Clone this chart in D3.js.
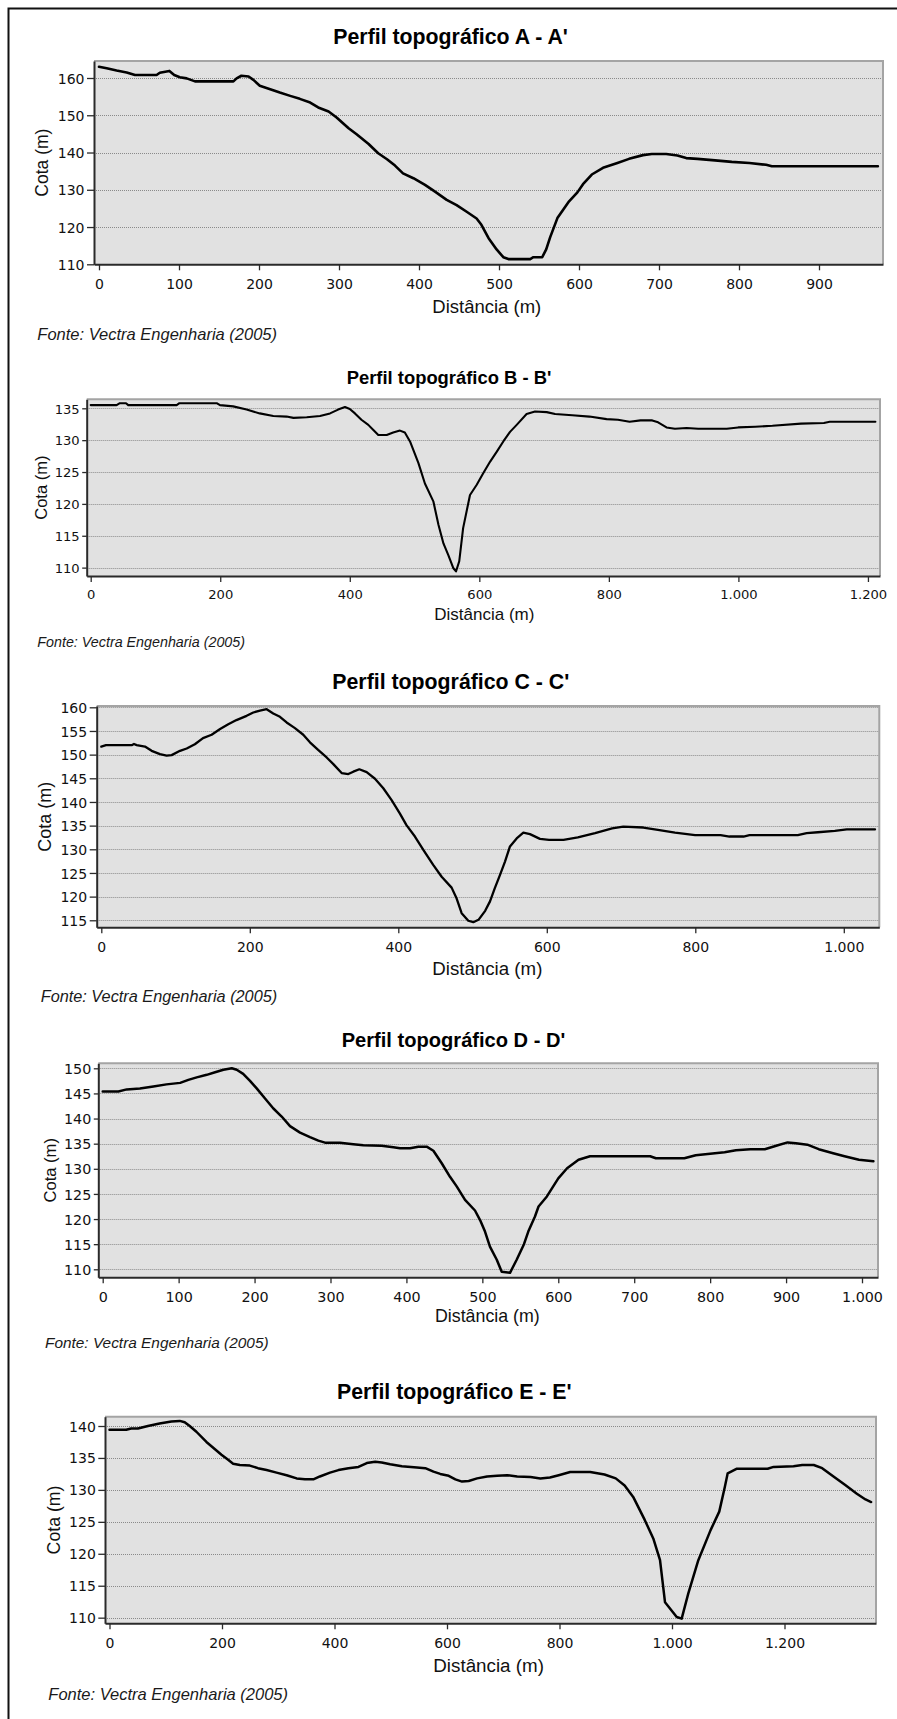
<!DOCTYPE html>
<html>
<head>
<meta charset="utf-8">
<script src="https://cdn.jsdelivr.net/npm/d3@7"></script>
<style>
  html, body { margin: 0; padding: 0; background: #fff; }
  svg { display: block; }
</style>
</head>
<body>
<svg id="chart" width="897" height="1719"></svg>
<script>
// ---- Topographic profiles: [distância (m), cota (m)] ----
const perfilA = [[0,163.0],[9.6,162.6],[22,162],[34.6,161.5],[45,160.8],[72,160.8],[76,161.4],[88,161.9],[94,160.8],[101,160.2],[109.6,159.9],[120,159.1],[168,159.1],[172,159.9],[178,160.6],[187,160.4],[193,159.5],[201,157.9],[214,157],[226,156.1],[239,155.2],[251,154.4],[264,153.4],[274,152.1],[287,151],[297,149.4],[312,146.5],[322,144.9],[337,142.3],[349,139.8],[360,138.2],[370,136.5],[380,134.4],[393,133.1],[407.5,131.3],[420,129.5],[434.6,127.3],[447,125.9],[459.6,124.1],[472,122.3],[478,120.6],[487,117],[497,114],[505.4,111.9],[511.7,111.4],[539,111.4],[543,111.9],[554,111.9],[559,114],[564,117.3],[573,122.4],[580,124.6],[587.6,126.9],[598,129.3],[605,131.5],[616,134.1],[630,135.9],[648,137.2],[662.6,138.3],[680,139.3],[691,139.6],[709,139.6],[723,139.2],[734,138.5],[748,138.3],[770,137.9],[791,137.5],[813,137.2],[834,136.7],[841,136.3],[973.6,136.3]];

const perfilB = [[0,135.5],[40,135.5],[45,135.8],[54.5,135.8],[58,135.5],[132.7,135.5],[137,135.8],[194.5,135.8],[199.6,135.5],[220,135.3],[240.7,134.8],[261,134.2],[282,133.8],[302.5,133.7],[313,133.5],[333.5,133.6],[354,133.8],[369.5,134.2],[382,134.8],[392.6,135.2],[400,134.9],[408,134.2],[418,133.2],[428.6,132.4],[436.4,131.6],[444,130.8],[457,130.8],[467,131.2],[477.5,131.5],[485,131.2],[493,129.8],[506,126.4],[516,123.2],[529,120.4],[537,116.7],[544.6,113.8],[552,112],[560,109.9],[564,109.4],[569,111],[575,116.2],[585.6,121.4],[596,123],[606,124.8],[616.5,126.6],[627,128.2],[637,129.8],[647.4,131.3],[657.7,132.4],[673,134.1],[686,134.5],[704,134.4],[717,134.1],[743.5,133.9],[770,133.7],[796.5,133.3],[814,133.2],[832,132.9],[849,133.1],[867,133.1],[876,132.8],[889,132],[902,131.8],[920,131.9],[938,131.8],[982,131.8],[999.6,132],[1026,132.1],[1052.5,132.25],[1096.7,132.6],[1132,132.7],[1141,132.9],[1211.5,132.9]];

const perfilC = [[0,151.7],[6.3,152],[40.9,152],[44,152.25],[47.6,152],[58.8,151.7],[67.8,150.8],[79,150.1],[88,149.8],[94.7,149.9],[106,150.8],[115,151.3],[126,152.2],[137,153.5],[148.6,154.2],[160,155.4],[171,156.4],[182,157.3],[195.7,158.2],[204.7,158.9],[213.7,159.3],[222.7,159.6],[231.6,158.7],[240.6,158],[249.6,156.8],[260.8,155.6],[272,154.2],[281,152.6],[292,151],[303.5,149.4],[312.5,148],[323.7,146.1],[332.7,145.9],[339.4,146.4],[347.5,146.9],[357.4,146.3],[368.6,144.9],[379.8,142.9],[391,140.4],[402,137.6],[411,135.1],[422.4,132.7],[433.7,129.9],[447,126.7],[458.4,124.2],[471.8,121.9],[478.6,119.6],[485.3,116.5],[494.3,114.9],[501,114.6],[508,115.1],[517,117],[523.5,119],[530,121.8],[537,124.6],[543.7,127.4],[550.4,130.6],[559.4,132.3],[568.4,133.5],[577.3,133.2],[590.8,132.2],[603,132],[622.5,132],[641.8,132.5],[665,133.4],[688,134.4],[703,134.8],[730,134.6],[749.6,134.1],[772.7,133.5],[799.7,133],[834,133],[846,132.7],[865,132.7],[873,133],[938,133],[950,133.4],[965,133.6],[988,133.9],[1004,134.2],[1042,134.2]];

const perfilD = [[0,145.4],[20.6,145.4],[31.6,145.8],[49,146],[66.7,146.4],[84,146.8],[102,147.1],[112.8,147.7],[123.8,148.2],[137,148.7],[148,149.2],[159,149.7],[170,150],[176.5,149.7],[185,148.9],[194,147.5],[202.8,146],[213.8,144],[224.8,142],[235.7,140.4],[246.7,138.5],[259.9,137.2],[273,136.3],[284,135.6],[292.8,135.2],[312.6,135.2],[330,134.9],[343.3,134.7],[367.4,134.6],[382.8,134.3],[391.6,134.1],[404.8,134.1],[415.7,134.4],[426.7,134.4],[435.5,133.6],[446.5,131.1],[457.4,128.4],[466.2,126.5],[477.2,123.8],[490.3,121.7],[497,119.8],[503.5,117.5],[510,114.5],[519,111.9],[525.5,109.5],[536.4,109.3],[545.2,111.9],[554.8,115],[560.5,117.5],[569.3,120.5],[574,122.5],[585,124.5],[600,128.1],[611.6,130.1],[626.7,131.8],[641.8,132.5],[664,132.5],[721,132.5],[728.5,132.1],[766,132.1],[781,132.7],[800,133],[819,133.3],[834,133.7],[853,133.9],[872,133.9],[887,134.6],[902,135.25],[913,135.1],[928,134.8],[943,133.9],[962,133.1],[977,132.5],[996,131.8],[1015,131.5]];

const perfilE = [[0,139.4],[29.7,139.4],[38.6,139.6],[50.5,139.6],[68.3,140],[89,140.4],[110,140.7],[124.8,140.8],[133.7,140.6],[142.6,140],[154.5,139.1],[172.3,137.5],[187,136.4],[199,135.5],[210.9,134.7],[219.8,134.1],[231.7,133.9],[249.5,133.8],[264,133.4],[279.2,133.1],[297,132.7],[314.9,132.3],[332.7,131.8],[347.5,131.65],[362.4,131.65],[374,132.1],[392,132.7],[407,133.1],[424.8,133.4],[442.6,133.6],[457.4,134.2],[472.3,134.4],[484,134.3],[499,134],[519.8,133.7],[546.5,133.5],[561.4,133.4],[576,132.85],[588,132.5],[603,132.2],[614.9,131.65],[626.7,131.3],[638.6,131.4],[653.5,131.8],[671.3,132.1],[689,132.2],[707,132.3],[724.8,132.1],[748.5,132],[766,131.8],[783,131.95],[798.6,132.3],[819,132.8],[854.6,132.8],[880,132.4],[900,131.8],[915.8,130.7],[931,128.9],[951.5,125.3],[966.7,122.4],[978.7,119],[987.6,112.4],[1008.4,110.1],[1017.2,109.85],[1029,113.8],[1046.8,119],[1068.6,123.7],[1084,126.6],[1094,130.5],[1099,132.6],[1114.6,133.3],[1170,133.3],[1180.6,133.6],[1216,133.7],[1231.5,133.9],[1252,133.9],[1267,133.4],[1287.7,132.05],[1308,130.75],[1328.6,129.4],[1344,128.5],[1354,128.1]];

// ---- Titles and tick values ----
const titulos = ["Perfil topográfico A - A'", "Perfil topográfico B - B'", "Perfil topográfico C - C'", "Perfil topográfico D - D'", "Perfil topográfico E - E'"];
const xTicksA = [0, 100, 200, 300, 400, 500, 600, 700, 800, 900];
const xTicksB = [0, 200, 400, 600, 800, 1000, 1200];
const xTicksC = [0, 200, 400, 600, 800, 1000];
const xTicksD = [0, 100, 200, 300, 400, 500, 600, 700, 800, 900, 1000];
const xTicksE = [0, 200, 400, 600, 800, 1000, 1200];
const yTicksA = [110, 120, 130, 140, 150, 160];
const yTicksB = [110, 115, 120, 125, 130, 135];
const yTicksC = [115, 120, 125, 130, 135, 140, 145, 150, 155, 160];
const yTicksD = [110, 115, 120, 125, 130, 135, 140, 145, 150];
const yTicksE = [110, 115, 120, 125, 130, 135, 140];
const eixoX = "Distância (m)";
const eixoY = "Cota (m)";
const fonte = "Fonte: Vectra Engenharia (2005)";

// ---- Panel layout (pixel geometry of each plot) ----
// l/r/t/b: plot box; x0: pixel of distance 0; kx: px per metre;
// yRef at yRefPx with ky px per metre of elevation.
const panels = [
  { data: perfilA, title: titulos[0], xTicks: xTicksA, yTicks: yTicksA,
    l: 94, r: 883, t: 61, b: 264.3, x0: 99, kx: 0.8, yRef: 160, yRefPx: 78, ky: 3.726,
    titleX: 333.3, titleY: 43.7, titleSize: 21.3, xLabX: 432.3, xLabY: 312.7, xLabSize: 18.5,
    yLabX: 41.7, yLabSize: 17.5, srcX: 37.3, srcY: 340, srcSize: 16.5,
    tickSize: 14, yTickLen: 7, xLabOff: 25, stroke: 2.6 },
  { data: perfilB, title: titulos[1], xTicks: xTicksB, yTicks: yTicksB,
    l: 86.7, r: 880, t: 399.3, b: 576, x0: 90.7, kx: 0.6477, yRef: 135, yRefPx: 408.3, ky: 6.373,
    titleX: 346.7, titleY: 384.3, titleSize: 18.4, xLabX: 434.3, xLabY: 620, xLabSize: 17,
    yLabX: 41.7, yLabSize: 16.5, srcX: 37.3, srcY: 646.7, srcSize: 14.3,
    tickSize: 13.1, yTickLen: 4.5, xLabOff: 23.3, stroke: 2.1 },
  { data: perfilC, title: titulos[2], xTicks: xTicksC, yTicks: yTicksC,
    l: 96.7, r: 879.3, t: 706, b: 927.3, x0: 101.3, kx: 0.7425, yRef: 160, yRefPx: 707.3, ky: 4.733,
    titleX: 332.3, titleY: 689, titleSize: 21.3, xLabX: 432.3, xLabY: 975, xLabSize: 18.7,
    yLabX: 45, yLabSize: 18, srcX: 40.7, srcY: 1001.7, srcSize: 16.3,
    tickSize: 14, yTickLen: 7, xLabOff: 24.4, stroke: 2.3 },
  { data: perfilD, title: titulos[3], xTicks: xTicksD, yTicks: yTicksD,
    l: 98.3, r: 878, t: 1063.3, b: 1277.3, x0: 102.7, kx: 0.7593, yRef: 150, yRefPx: 1068.3, ky: 5.025,
    titleX: 341.7, titleY: 1047.3, titleSize: 20.1, xLabX: 435, xLabY: 1321.7, xLabSize: 17.8,
    yLabX: 50, yLabSize: 16.6, srcX: 45, srcY: 1348.3, srcSize: 15.4,
    tickSize: 14.3, yTickLen: 4.5, xLabOff: 24.4, stroke: 2.5 },
  { data: perfilE, title: titulos[4], xTicks: xTicksE, yTicks: yTicksE,
    l: 105, r: 876, t: 1416.7, b: 1623.3, x0: 109.5, kx: 0.5625, yRef: 140, yRefPx: 1426, ky: 6.389,
    titleX: 337, titleY: 1399.3, titleSize: 21.3, xLabX: 433.3, xLabY: 1671.7, xLabSize: 18.8,
    yLabX: 53.3, yLabSize: 17.7, srcX: 48.3, srcY: 1700, srcSize: 16.5,
    tickSize: 14, yTickLen: 6.7, xLabOff: 25, stroke: 2.5 }
];

const ptBR = d3.formatLocale({ decimal: ",", thousands: ".", grouping: [3], currency: ["R$", ""] });
const fmt = ptBR.format(",d");
const sans = "'Liberation Sans', Arial, Helvetica, sans-serif";
const tickFont = "'DejaVu Sans', Verdana, sans-serif";

const svg = d3.select("#chart");

// outer frame (top and left edges)
svg.append("path")
  .attr("d", "M8.5,1719V8.5H897")
  .attr("fill", "none").attr("stroke", "#111").attr("stroke-width", 2);

panels.forEach(p => {
  const x = d3.scaleLinear()
    .domain([(p.l - p.x0) / p.kx, (p.r - p.x0) / p.kx])
    .range([p.l, p.r]);
  const y = d3.scaleLinear()
    .domain([p.yRef - (p.b - p.yRefPx) / p.ky, p.yRef + (p.yRefPx - p.t) / p.ky])
    .range([p.b, p.t]);

  const g = svg.append("g");

  // plot background
  g.append("rect")
    .attr("x", p.l).attr("y", p.t)
    .attr("width", p.r - p.l).attr("height", p.b - p.t)
    .attr("fill", "#e1e1e1");

  // dotted horizontal gridlines
  g.append("g").selectAll("line").data(p.yTicks).join("line")
    .attr("x1", p.l).attr("x2", p.r)
    .attr("y1", d => Math.round(y(d)) + 0.5).attr("y2", d => Math.round(y(d)) + 0.5)
    .attr("stroke", "#8a8a8a").attr("stroke-width", 1)
    .attr("stroke-dasharray", "1,1");

  // grey top and right border
  g.append("path")
    .attr("d", `M${p.l},${p.t}H${p.r}V${p.b}`)
    .attr("fill", "none").attr("stroke", "#a4a4a4").attr("stroke-width", 2);

  // profile line
  g.append("path")
    .datum(p.data)
    .attr("fill", "none")
    .attr("stroke", "#000")
    .attr("stroke-width", p.stroke)
    .attr("stroke-linejoin", "round")
    .attr("stroke-linecap", "round")
    .attr("d", d3.line().x(d => x(d[0])).y(d => y(d[1])));

  // x axis
  const gx = g.append("g")
    .attr("transform", `translate(0,${p.b})`)
    .call(d3.axisBottom(x).tickValues(p.xTicks).tickFormat(fmt).tickSize(6).tickSizeOuter(0));
  gx.select(".domain").attr("stroke", "#2a2a2a").attr("stroke-width", 2);
  gx.selectAll(".tick line").attr("stroke", "#2a2a2a").attr("stroke-width", 1.3);
  gx.selectAll(".tick text")
    .attr("y", p.xLabOff).attr("dy", 0)
    .attr("fill", "#111")
    .attr("font-family", tickFont).attr("font-size", p.tickSize);

  // y axis
  const gy = g.append("g")
    .attr("transform", `translate(${p.l},0)`)
    .call(d3.axisLeft(y).tickValues(p.yTicks).tickFormat(fmt).tickSize(p.yTickLen).tickPadding(2.5).tickSizeOuter(0));
  gy.select(".domain").attr("stroke", "#2a2a2a").attr("stroke-width", 2);
  gy.selectAll(".tick line").attr("stroke", "#2a2a2a").attr("stroke-width", 1.3);
  gy.selectAll(".tick text")
    .attr("dy", "0.36em")
    .attr("fill", "#111")
    .attr("font-family", tickFont).attr("font-size", p.tickSize);
  gy.attr("font-family", null);
  gx.attr("font-family", null);

  // title
  g.append("text")
    .attr("x", p.titleX).attr("y", p.titleY)
    .attr("font-family", sans).attr("font-weight", "bold")
    .attr("font-size", p.titleSize).attr("fill", "#000")
    .text(p.title);

  // axis titles
  g.append("text")
    .attr("x", p.xLabX).attr("y", p.xLabY)
    .attr("font-family", sans).attr("font-size", p.xLabSize).attr("fill", "#111")
    .text(eixoX);

  g.append("text")
    .attr("transform", `translate(${p.yLabX},${(p.t + p.b) / 2}) rotate(-90)`)
    .attr("text-anchor", "middle").attr("dy", "0.35em")
    .attr("font-family", sans).attr("font-size", p.yLabSize).attr("fill", "#111")
    .text(eixoY);

  // source note
  g.append("text")
    .attr("x", p.srcX).attr("y", p.srcY)
    .attr("font-family", sans).attr("font-style", "italic")
    .attr("font-size", p.srcSize).attr("fill", "#1a1a1a")
    .text(fonte);
});
</script>
</body>
</html>
